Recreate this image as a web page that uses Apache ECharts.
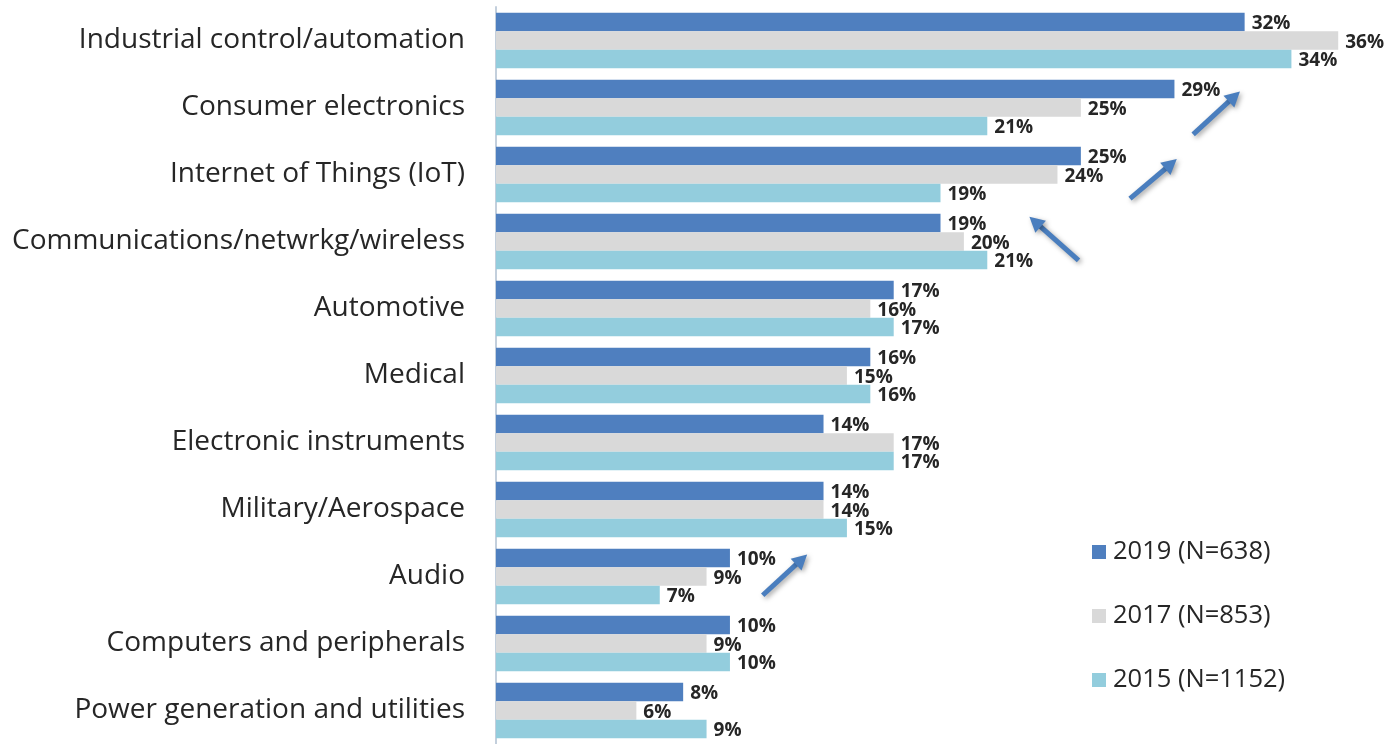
<!DOCTYPE html>
<html>
<head>
<meta charset="utf-8">
<title>Application areas by survey year</title>
<script src="https://cdn.jsdelivr.net/npm/echarts@6/dist/echarts.min.js"></script>
<style>
  html, body { margin: 0; padding: 0; background: #ffffff; }
  #chart { width: 1400px; height: 744px; }
</style>
</head>
<body>
<div id="chart"></div>
<script>
// Application categories, top to bottom
const categories = [
  'Industrial control/automation',
  'Consumer electronics',
  'Internet of Things (IoT)',
  'Communications/netwrkg/wireless',
  'Automotive',
  'Medical',
  'Electronic instruments',
  'Military/Aerospace',
  'Audio',
  'Computers and peripherals',
  'Power generation and utilities'
];

// Share of respondents (%) per survey year
const series2019 = [32, 29, 25, 19, 17, 16, 14, 14, 10, 10, 8];
const series2017 = [36, 25, 24, 20, 16, 15, 17, 14, 9, 9, 6];
const series2015 = [34, 21, 19, 21, 17, 16, 17, 15, 7, 10, 9];

const seriesNames = ['2019 (N=638)', '2017 (N=853)', '2015 (N=1152)'];

// Trend arrows in data units: [fromValue, fromRow, toValue, toRow]
// (rows are category positions, 0 = top; fractional rows fall between bars)
const trendArrows = [
  [29.8, 1.40, 31.8, 0.76],
  [27.1, 2.36, 29.1, 1.77],
  [24.9, 3.28, 22.8, 2.63],
  [11.4, 8.28, 13.3, 7.67]
];

const colors = ['#4f7fbf', '#d9d9d9', '#93cddd'];
const labelFont = '"Open Sans", "Noto Sans", sans-serif';

function barSeries(name, values, color) {
  return {
    name: name,
    type: 'bar',
    data: values,
    barGap: '0%',
    barCategoryGap: '17%',
    itemStyle: { color: color },
    label: {
      show: true,
      position: 'right',
      distance: 7,
      offset: [0, 2],
      formatter: '{c}%',
      fontFamily: labelFont,
      fontWeight: 'bold',
      fontSize: 19,
      color: '#262626'
    },
    emphasis: { disabled: true }
  };
}

const chart = echarts.init(document.getElementById('chart'), null, { renderer: 'canvas' });

chart.setOption({
  animation: false,
  backgroundColor: '#ffffff',
  color: colors,
  grid: { left: 496, top: 7, width: 889, height: 740 },
  xAxis: {
    type: 'value',
    min: 0,
    max: 38,
    show: false
  },
  yAxis: [
    {
      type: 'category',
      data: categories,
      inverse: true,
      axisTick: { show: false },
      axisLine: { show: true, lineStyle: { color: '#c3cfdc', width: 2 } },
      axisLabel: {
        margin: 31,
        padding: [5, 0, 0, 0],
        fontFamily: labelFont,
        fontSize: 28,
        color: '#262626'
      }
    },
    {
      // hidden helper axis that places the trend arrows between bars
      type: 'value',
      min: -0.5,
      max: 10.5,
      inverse: true,
      show: false
    }
  ],
  legend: {
    orient: 'vertical',
    left: 1087,
    top: 534,
    itemWidth: 14,
    itemHeight: 14,
    itemGap: 38,
    icon: 'rect',
    data: seriesNames,
    textStyle: {
      fontFamily: labelFont,
      fontSize: 25.5,
      color: '#262626',
      padding: [0, 0, 0, 2]
    }
  },
  series: [
    barSeries(seriesNames[0], series2019, colors[0]),
    barSeries(seriesNames[1], series2017, colors[1]),
    barSeries(seriesNames[2], series2015, colors[2]),
    {
      type: 'custom',
      yAxisIndex: 1,
      silent: true,
      z: 10,
      dimensions: ['x1', 'y1', 'x2', 'y2'],
      encode: { x: [0, 2], y: [1, 3] },
      data: trendArrows,
      renderItem: function (params, api) {
        const p1 = api.coord([api.value(0), api.value(1)]);
        const p2 = api.coord([api.value(2), api.value(3)]);
        const dx = p2[0] - p1[0];
        const dy = p2[1] - p1[1];
        const len = Math.sqrt(dx * dx + dy * dy);
        const ux = dx / len, uy = dy / len;
        const nx = -uy, ny = ux;
        const headLen = 15, headHalf = 8;
        const base = [p2[0] - ux * headLen, p2[1] - uy * headLen];
        const shadow = {
          shadowBlur: 5,
          shadowColor: 'rgba(0,0,0,0.35)',
          shadowOffsetX: 2,
          shadowOffsetY: 2
        };
        return {
          type: 'group',
          children: [
            {
              type: 'line',
              shape: { x1: p1[0], y1: p1[1], x2: base[0] + ux * 2, y2: base[1] + uy * 2 },
              style: Object.assign({ stroke: '#4a7ebe', lineWidth: 5, lineCap: 'butt' }, shadow)
            },
            {
              type: 'polygon',
              shape: {
                points: [
                  [p2[0], p2[1]],
                  [base[0] + nx * headHalf, base[1] + ny * headHalf],
                  [base[0] - nx * headHalf, base[1] - ny * headHalf]
                ]
              },
              style: Object.assign({ fill: '#4a7ebe' }, shadow)
            }
          ]
        };
      }
    }
  ]
});
</script>
</body>
</html>
